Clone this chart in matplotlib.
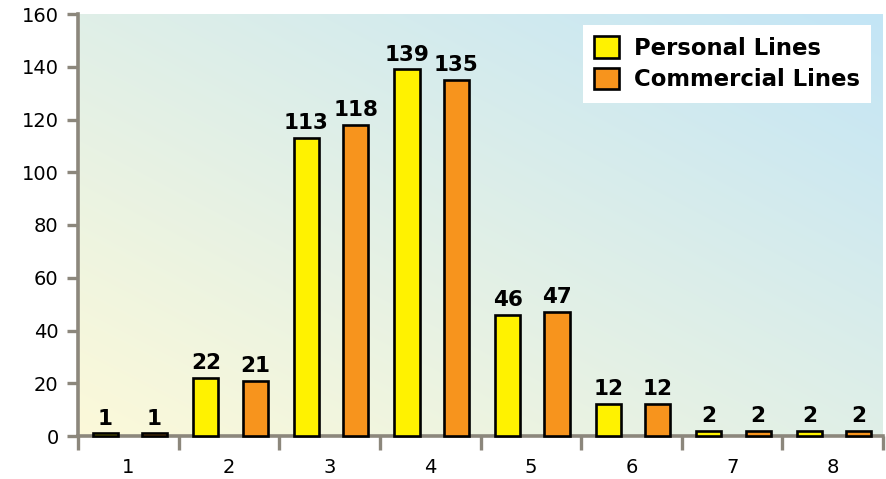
import numpy as np
import matplotlib
matplotlib.use("Agg")
import matplotlib.pyplot as plt
from matplotlib.patches import Patch

plt.rcParams['font.family'] = ['DejaVu Sans']

categories = ["1", "2", "3", "4", "5", "6", "7", "8"]
personal = [1, 22, 113, 139, 46, 12, 2, 2]
commercial = [1, 21, 118, 135, 47, 12, 2, 2]
y_ticks = [0, 20, 40, 60, 80, 100, 120, 140, 160]

yellow = "#fff200"
orange = "#f7941d"
spine_gray = "#8c877c"

W, H = 886, 479
fig = plt.figure(figsize=(W / 100, H / 100), dpi=100)
ax = fig.add_axes([78 / W, 43 / H, (883 - 78) / W, (436 - 14) / H])

# diagonal background wash: pale yellow (bottom-left) to light blue (top-right)
c0 = np.array([0xfc, 0xf9, 0xd9]) / 255
c1 = np.array([0xc3, 0xe5, 0xf6]) / 255
gx, gy = np.meshgrid(np.linspace(0, 1, 400), np.linspace(0, 1, 200))
t = (gx + gy) / 2
grad = c0[None, None, :] * (1 - t[..., None]) + c1[None, None, :] * t[..., None]
ax.imshow(grad, extent=[0, 1, 0, 1], transform=ax.transAxes, origin="lower",
          aspect="auto", zorder=0, interpolation="bilinear")

x = np.arange(len(categories))
bw = 0.25
edge_lw = 1.9
b1 = ax.bar(x - 0.23, personal, bw, color=yellow, edgecolor="black",
            linewidth=edge_lw, zorder=3, label="Personal Lines", clip_on=False)
b2 = ax.bar(x + 0.26, commercial, bw, color=orange, edgecolor="black",
            linewidth=edge_lw, zorder=3, label="Commercial Lines", clip_on=False)

for bars, vals in ((b1, personal), (b2, commercial)):
    for rect, v in zip(bars, vals):
        ax.annotate(str(v), (rect.get_x() + rect.get_width() / 2, v),
                    xytext=(0, 3.5), textcoords="offset points",
                    ha="center", va="bottom", fontsize=15.5, fontweight="bold",
                    zorder=4)

ax.set_xlim(-0.5, len(categories) - 0.5)
ax.set_ylim(0, 160)
ax.set_yticks(y_ticks)
ax.set_yticklabels([str(v) for v in y_ticks], fontsize=14)

ax.set_xticks(x)
ax.set_xticklabels(categories, fontsize=14)
ax.tick_params(axis="x", which="major", length=0, pad=16)
ax.set_xticks(np.arange(len(categories) + 1) - 0.5, minor=True)
ax.tick_params(axis="x", which="minor", length=10, width=2.4,
               color=spine_gray, direction="out")
ax.tick_params(axis="y", length=8, width=2.4, color=spine_gray,
               direction="out", pad=6)

for side in ("top", "right"):
    ax.spines[side].set_visible(False)
for side in ("left", "bottom"):
    ax.spines[side].set_color(spine_gray)
    ax.spines[side].set_linewidth(2.6)
    ax.spines[side].set_zorder(2.5)

handles = [Patch(facecolor=yellow, edgecolor="black", linewidth=edge_lw, label="Personal Lines"),
           Patch(facecolor=orange, edgecolor="black", linewidth=edge_lw, label="Commercial Lines")]
leg = ax.legend(handles=handles, loc="upper right", bbox_to_anchor=(0.985, 0.974),
                frameon=True, fancybox=False, framealpha=1, edgecolor="white",
                prop={"size": 16.4, "weight": "bold"}, handlelength=1.1,
                handleheight=1.1, handletextpad=0.62, borderpad=0.5,
                labelspacing=0.33, borderaxespad=0)
leg.get_frame().set_linewidth(0)

fig.savefig("out.png", dpi=100)
